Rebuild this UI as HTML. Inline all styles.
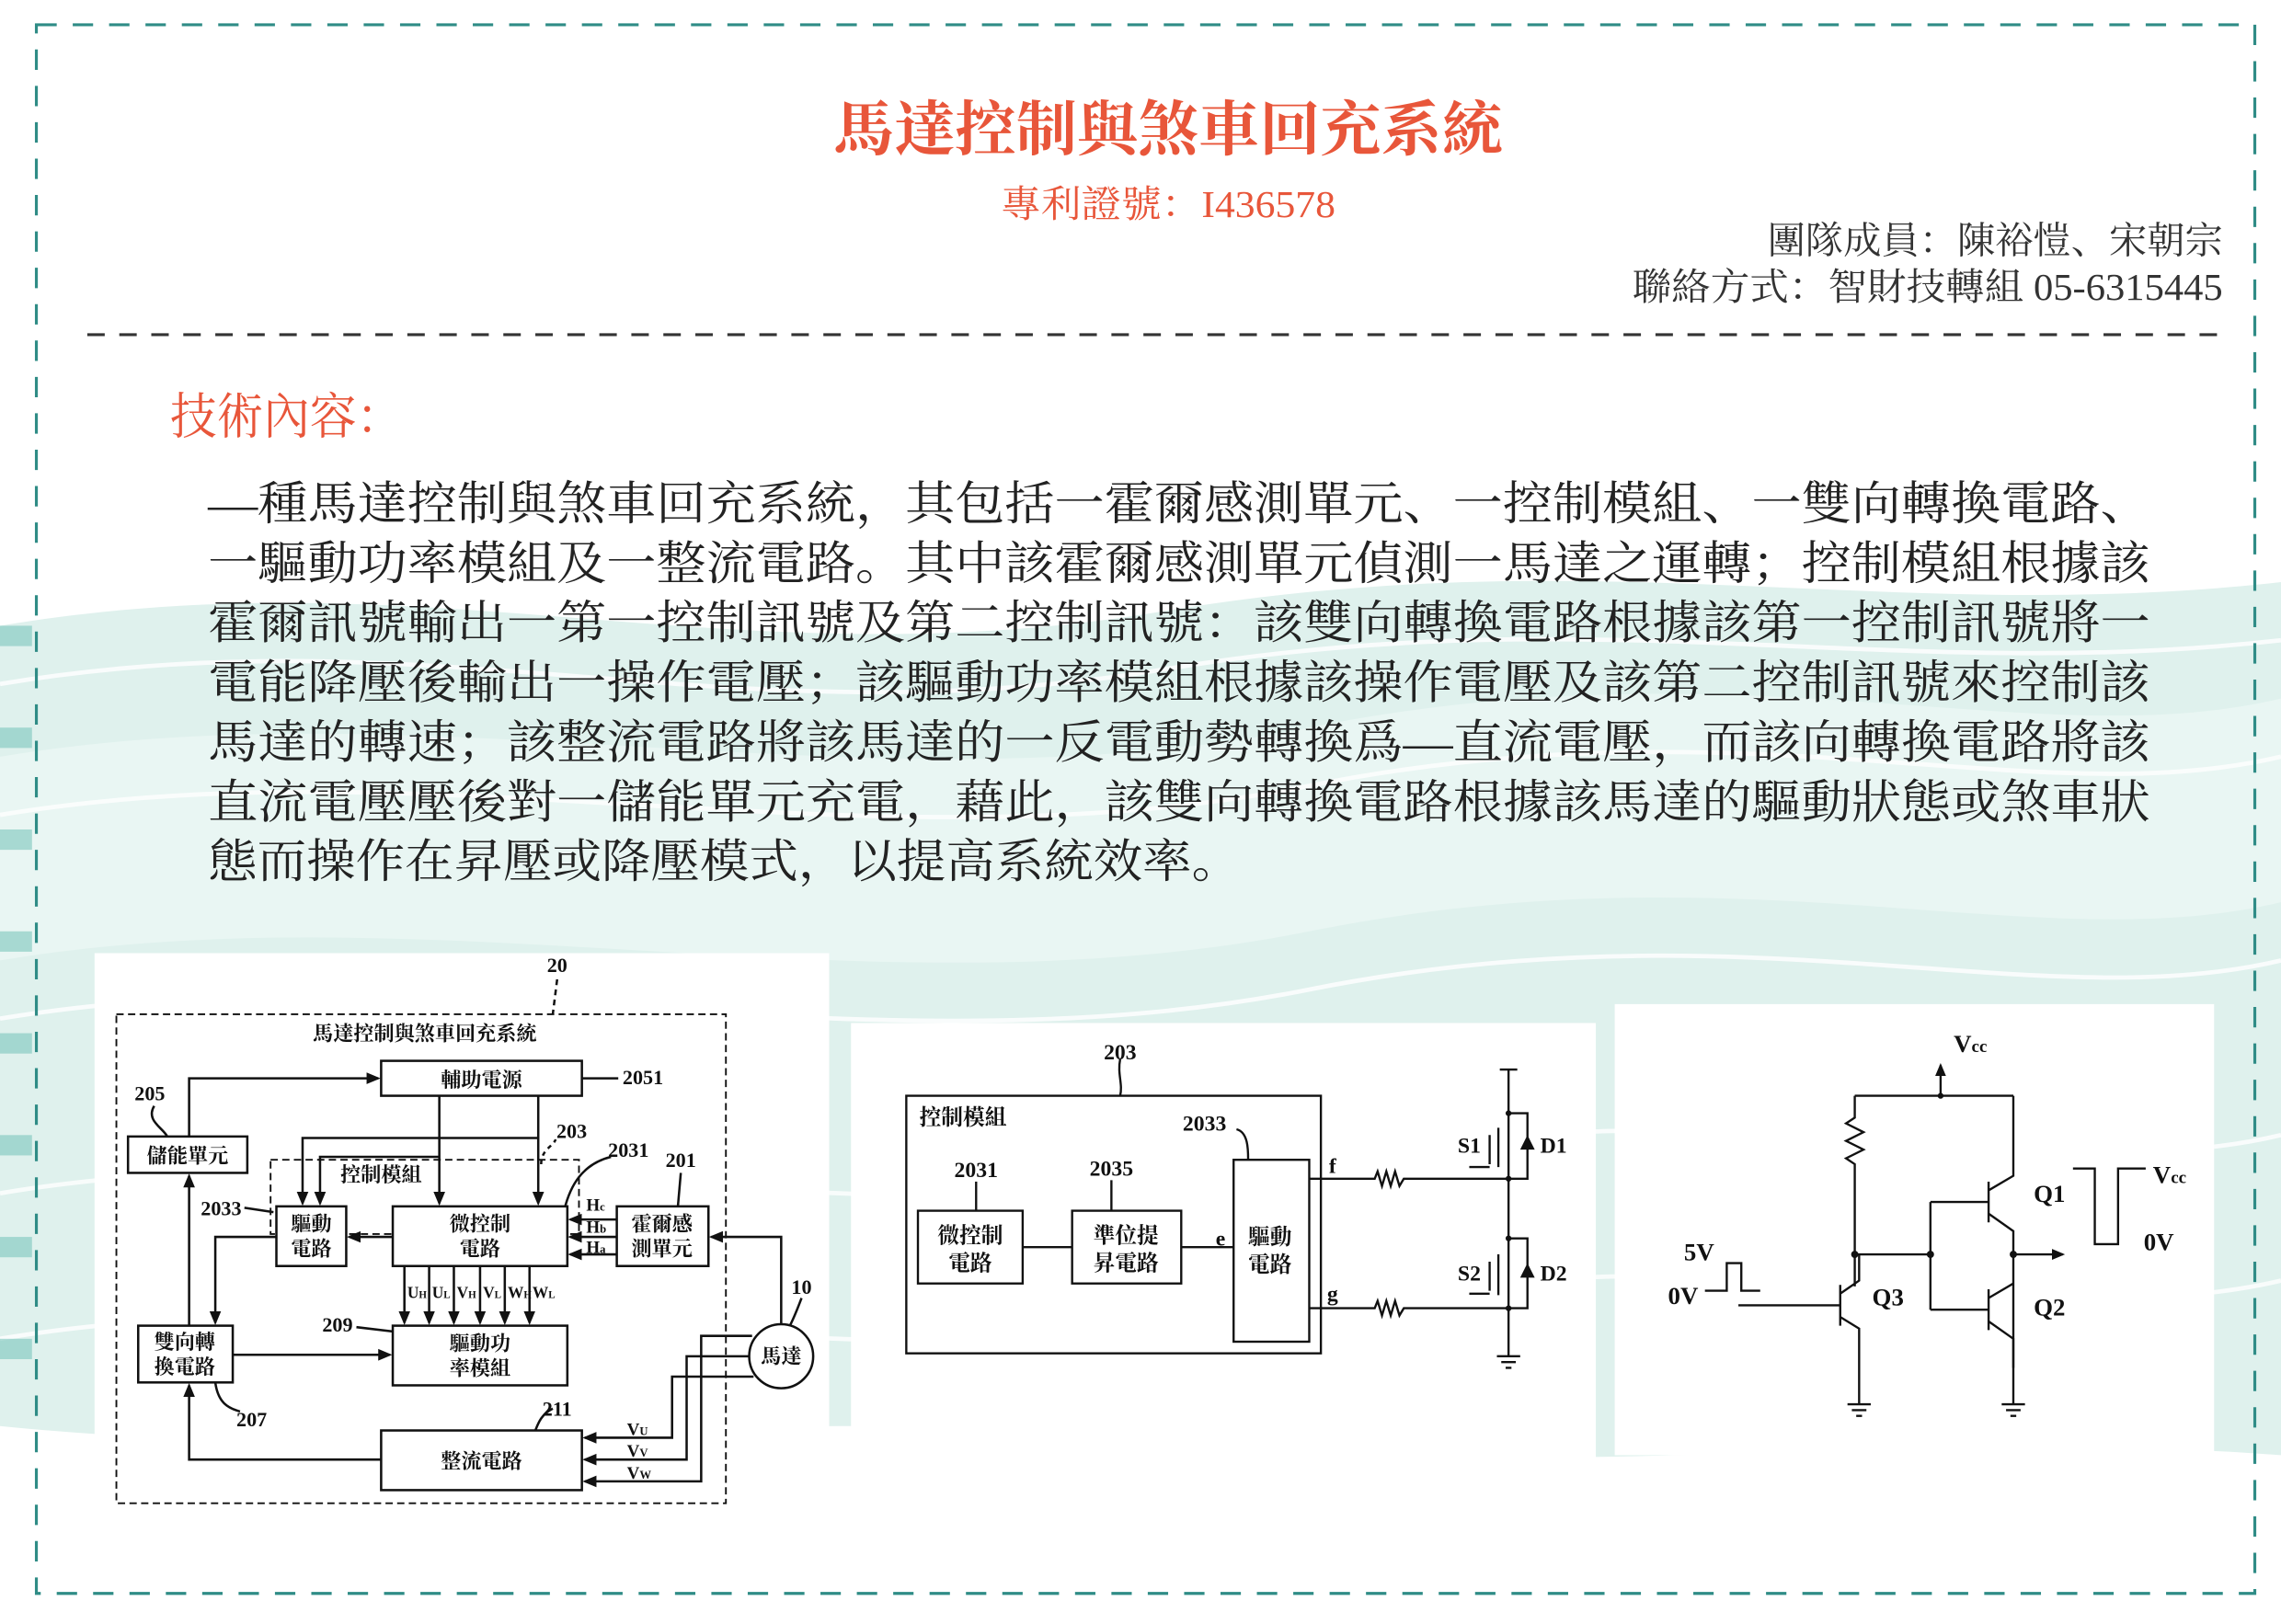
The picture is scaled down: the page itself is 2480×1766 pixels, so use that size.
<!DOCTYPE html>
<html><head><meta charset="utf-8">
<style>
html,body{margin:0;padding:0;background:#fff;}
svg{display:block;}
.t{font-family:"Liberation Serif","Noto Serif CJK SC","Noto Sans CJK TC",serif;}
.d{font-family:"Liberation Serif","Noto Serif CJK SC",serif;font-weight:bold;fill:#111;}
</style></head><body>
<svg width="2480" height="1766" viewBox="0 0 1568 1116" preserveAspectRatio="none" xmlns="http://www.w3.org/2000/svg">
<rect width="1568" height="1116" fill="#fff"/>
<path d="M0,430 C300,380 500,470 800,420 C1100,370 1300,430 1568,400 L1568,1000 C1300,980 1100,1020 800,990 C500,960 300,1010 0,980 Z" fill="#dff1ed"/>
<path d="M0,520 C300,470 600,560 900,500 C1200,440 1400,520 1568,480 L1568,620 C1400,660 1200,580 900,640 C600,700 300,610 0,660 Z" fill="#e9f6f3"/>
<g stroke="#fff" stroke-width="3" fill="none" opacity="0.8">
<path d="M0,470 C300,420 500,510 800,460 C1100,410 1300,470 1568,440"/>
<path d="M0,560 C300,510 600,600 900,540 C1200,480 1400,560 1568,520"/>
<path d="M0,700 C300,650 600,740 900,680 C1200,620 1400,700 1568,660"/>
<path d="M0,820 C300,770 600,860 900,800 C1200,740 1400,820 1568,780"/>
<path d="M0,920 C300,870 600,960 900,900 C1200,840 1400,920 1568,880"/>
</g>
<g fill="#7cc7bd" opacity="0.6">
<rect x="0" y="430" width="22" height="14"/><rect x="0" y="500" width="22" height="14"/><rect x="0" y="570" width="22" height="14"/><rect x="0" y="640" width="22" height="14"/><rect x="0" y="710" width="22" height="14"/><rect x="0" y="780" width="22" height="14"/><rect x="0" y="850" width="22" height="14"/><rect x="0" y="920" width="22" height="14"/>
</g>
<rect x="65" y="655" width="505" height="400" fill="#fff"/>
<rect x="585" y="703" width="512" height="300" fill="#fff"/>
<rect x="1110" y="690" width="412" height="310" fill="#fff"/>
<rect x="25" y="17" width="1525" height="1078" fill="none" stroke="#2f8c86" stroke-width="2" stroke-dasharray="14,11"/>
<line x1="60" y1="230" x2="1525" y2="230" stroke="#333" stroke-width="2" stroke-dasharray="12,10"/>
<text class="t" x="573" y="103" font-size="41" font-weight="bold" fill="#e8563a" textLength="460" lengthAdjust="spacingAndGlyphs">馬達控制與煞車回充系統</text>
<text class="t" x="688" y="149" font-size="26" fill="#e8563a" textLength="230" lengthAdjust="spacingAndGlyphs">專利證號：I436578</text>
<text class="t" x="1215" y="174" font-size="26" fill="#333" textLength="313" lengthAdjust="spacingAndGlyphs">團隊成員：陳裕愷、宋朝宗</text>
<text class="t" x="1122" y="206" font-size="26" fill="#333" textLength="406" lengthAdjust="spacingAndGlyphs">聯絡方式：智財技轉組 05-6315445</text>
<text class="t" x="117" y="298" font-size="34" fill="#e8563a" textLength="160" lengthAdjust="spacingAndGlyphs">技術內容：</text>
<g class="t" font-size="32" fill="#222">
<text x="143" y="357" textLength="1335" lengthAdjust="spacingAndGlyphs">—種馬達控制與煞車回充系統，其包括一霍爾感測單元、一控制模組、一雙向轉換電路、</text>
<text x="143" y="398" textLength="1335" lengthAdjust="spacingAndGlyphs">一驅動功率模組及一整流電路。其中該霍爾感測單元偵測一馬達之運轉；控制模組根據該</text>
<text x="143" y="439" textLength="1335" lengthAdjust="spacingAndGlyphs">霍爾訊號輸出一第一控制訊號及第二控制訊號：該雙向轉換電路根據該第一控制訊號將一</text>
<text x="143" y="480" textLength="1335" lengthAdjust="spacingAndGlyphs">電能降壓後輸出一操作電壓；該驅動功率模組根據該操作電壓及該第二控制訊號來控制該</text>
<text x="143" y="521" textLength="1335" lengthAdjust="spacingAndGlyphs">馬達的轉速；該整流電路將該馬達的一反電動勢轉換爲—直流電壓，而該向轉換電路將該</text>
<text x="143" y="562" textLength="1335" lengthAdjust="spacingAndGlyphs">直流電壓壓後對一儲能單元充電，藉此，該雙向轉換電路根據該馬達的驅動狀態或煞車狀</text>
<text x="143" y="603" textLength="710" lengthAdjust="spacingAndGlyphs">態而操作在昇壓或降壓模式，以提高系統效率。</text>
</g>
<defs><marker id="a" markerWidth="6" markerHeight="6" refX="5" refY="3" orient="auto"><path d="M0,0.5 L6,3 L0,5.5Z" fill="#111"/></marker></defs>
<g stroke="#111" stroke-width="1.6" fill="none">
<rect x="80" y="697" width="419" height="336" stroke-dasharray="5,3" stroke-width="1.2"/>
<path d="M383,673 L380,697" stroke-dasharray="4,3"/>
<rect x="262" y="729" width="138" height="24"/>
<path d="M400,741 L425,741"/>
<rect x="88" y="781" width="82" height="25"/>
<path d="M106,760 C100,770 112,775 115,781"/>
<path d="M130,781 L130,741 L260,741" marker-end="url(#a)"/>
<rect x="186" y="797" width="212" height="51" stroke-dasharray="5,3" stroke-width="1.2"/>
<path d="M372,800 C372,790 380,788 382,783" stroke-dasharray="3,3"/>
<path d="M420,795 C400,800 392,815 388,831"/>
<path d="M468,806 L466,829"/>
<rect x="190" y="829" width="48" height="41" fill="#fff"/>
<rect x="270" y="829" width="120" height="41" fill="#fff"/>
<rect x="424" y="829" width="63" height="41"/>
<path d="M302,753 L302,827" marker-end="url(#a)"/>
<path d="M370,753 L370,827" marker-end="url(#a)"/>
<path d="M370,782 L208,782 L208,827" marker-end="url(#a)"/>
<path d="M302,795 L220,795 L220,827" marker-end="url(#a)"/>
<path d="M424,838 L392,838" marker-end="url(#a)"/>
<path d="M424,850 L392,850" marker-end="url(#a)"/>
<path d="M424,862 L392,862" marker-end="url(#a)"/>
<path d="M270,850 L240,850" marker-end="url(#a)"/>
<path d="M190,850 L148,850 L148,909" marker-end="url(#a)"/>
<path d="M168,830 L188,833"/>
<path d="M278,870 L278,909" marker-end="url(#a)"/><path d="M295,870 L295,909" marker-end="url(#a)"/><path d="M312,870 L312,909" marker-end="url(#a)"/><path d="M330,870 L330,909" marker-end="url(#a)"/><path d="M347,870 L347,909" marker-end="url(#a)"/><path d="M364,870 L364,909" marker-end="url(#a)"/>
<rect x="270" y="911" width="120" height="41"/>
<path d="M245,912 L270,915"/>
<rect x="95" y="911" width="65" height="39"/>
<path d="M160,931 L268,931" marker-end="url(#a)"/>
<path d="M130,911 L130,808" marker-end="url(#a)"/>
<path d="M148,950 C150,965 158,968 165,970"/>
<rect x="262" y="983" width="138" height="41"/>
<path d="M380,968 C372,972 370,978 368,983"/>
<path d="M262,1003 L130,1003 L130,952" marker-end="url(#a)"/>
<circle cx="537" cy="932" r="22"/>
<path d="M551,892 C548,900 546,905 543,911"/>
<path d="M537,910 L537,850 L489,850" marker-end="url(#a)"/>
<path d="M517,918 L482,918 L482,1018 L402,1018" marker-end="url(#a)"/>
<path d="M515,932 L472,932 L472,1003 L402,1003" marker-end="url(#a)"/>
<path d="M518,946 L462,946 L462,988 L402,988" marker-end="url(#a)"/>
</g>
<g class="d" font-size="14">
<text x="383" y="668" text-anchor="middle">20</text>
<text x="292" y="715" text-anchor="middle">馬達控制與煞車回充系統</text>
<text x="331" y="747" text-anchor="middle">輔助電源</text>
<text x="428" y="745">2051</text>
<text x="103" y="756" text-anchor="middle">205</text>
<text x="129" y="799" text-anchor="middle">儲能單元</text>
<text x="393" y="782" text-anchor="middle">203</text>
<text x="432" y="795" text-anchor="middle">2031</text>
<text x="468" y="802" text-anchor="middle">201</text>
<text x="262" y="812" text-anchor="middle">控制模組</text>
<text x="152" y="835" text-anchor="middle">2033</text>
<text x="214" y="846" text-anchor="middle">驅動</text><text x="214" y="863" text-anchor="middle">電路</text>
<text x="330" y="846" text-anchor="middle">微控制</text><text x="330" y="863" text-anchor="middle">電路</text>
<text x="455" y="846" text-anchor="middle">霍爾感</text><text x="455" y="863" text-anchor="middle">測單元</text>
<text x="403" y="832" font-size="12">H<tspan font-size="8">c</tspan></text><text x="403" y="847" font-size="12">H<tspan font-size="8">b</tspan></text><text x="403" y="861" font-size="12">H<tspan font-size="8">a</tspan></text>
<text x="280" y="892" font-size="11">U<tspan font-size="7">H</tspan></text><text x="297" y="892" font-size="11">U<tspan font-size="7">L</tspan></text><text x="314" y="892" font-size="11">V<tspan font-size="7">H</tspan></text><text x="332" y="892" font-size="11">V<tspan font-size="7">L</tspan></text><text x="349" y="892" font-size="11">W<tspan font-size="7">H</tspan></text><text x="366" y="892" font-size="11">W<tspan font-size="7">L</tspan></text>
<text x="232" y="915" text-anchor="middle">209</text>
<text x="330" y="928" text-anchor="middle">驅動功</text><text x="330" y="945" text-anchor="middle">率模組</text>
<text x="127" y="927" text-anchor="middle">雙向轉</text><text x="127" y="944" text-anchor="middle">換電路</text>
<text x="173" y="980" text-anchor="middle">207</text>
<text x="383" y="973" text-anchor="middle">211</text>
<text x="331" y="1009" text-anchor="middle">整流電路</text>
<text x="537" y="937" text-anchor="middle">馬達</text>
<text x="551" y="889" text-anchor="middle">10</text>
<text x="431" y="986" font-size="12">V<tspan font-size="8">U</tspan></text><text x="431" y="1001" font-size="12">V<tspan font-size="8">V</tspan></text><text x="431" y="1016" font-size="12">V<tspan font-size="8">W</tspan></text>
</g>
<g stroke="#111" stroke-width="1.5" fill="none">
<path d="M770,728 C768,738 772,745 770,753"/>
<rect x="623" y="753" width="285" height="177"/>
<path d="M850,776 C858,778 858,790 858,797"/>
<rect x="848" y="797" width="52" height="125"/>
<path d="M671,812 L671,832"/><path d="M764,811 L764,832"/>
<rect x="631" y="832" width="72" height="50"/>
<rect x="737" y="832" width="75" height="50"/>
<path d="M703,857 L737,857"/><path d="M812,857 L848,857"/>
<path d="M900,810 L945,810 l2,-5 l3,10 l3,-10 l3,10 l3,-10 l3,10 l3,-5 L1037,810"/>
<path d="M900,899 L945,899 l2,-5 l3,10 l3,-10 l3,10 l3,-10 l3,10 l3,-5 L1037,899"/>
<path d="M1037,735 L1037,932"/><path d="M1031,735 L1043,735"/>
<path d="M1029,932 L1045,932 M1032,936 L1042,936 M1035,940 L1039,940"/>
<path d="M1037,765 L1050,765 L1050,810 L1037,810"/>
<path d="M1037,851 L1050,851 L1050,899 L1037,899"/>
<path d="M1030,775 L1030,802 M1024,780 L1024,800 M1010,802 L1024,802"/>
<path d="M1030,862 L1030,890 M1024,867 L1024,887 M1010,889 L1024,889"/>
</g>
<g fill="#111">
<path d="M1045,790 L1055,790 L1050,780Z"/><path d="M1045,878 L1055,878 L1050,868Z"/>
<circle cx="1037" cy="765" r="2"/><circle cx="1037" cy="810" r="2"/><circle cx="1037" cy="851" r="2"/><circle cx="1037" cy="899" r="2"/>
</g>
<g class="d" font-size="15">
<text x="770" y="728" text-anchor="middle">203</text>
<text x="632" y="773">控制模組</text>
<text x="828" y="777" text-anchor="middle">2033</text>
<text x="671" y="809" text-anchor="middle">2031</text>
<text x="764" y="808" text-anchor="middle">2035</text>
<text x="667" y="854" text-anchor="middle">微控制</text><text x="667" y="873" text-anchor="middle">電路</text>
<text x="774" y="854" text-anchor="middle">準位提</text><text x="774" y="873" text-anchor="middle">昇電路</text>
<text x="873" y="855" text-anchor="middle">驅動</text><text x="873" y="874" text-anchor="middle">電路</text>
<text x="839" y="856" text-anchor="middle">e</text>
<text x="916" y="806" text-anchor="middle">f</text><text x="916" y="894" text-anchor="middle">g</text>
<text x="1010" y="792" text-anchor="middle">S1</text><text x="1068" y="792" text-anchor="middle">D1</text>
<text x="1010" y="880" text-anchor="middle">S2</text><text x="1068" y="880" text-anchor="middle">D2</text>
</g>
<g stroke="#111" stroke-width="1.5" fill="none">
<path d="M1334,753 L1334,732" marker-end="url(#a)"/>
<path d="M1275,753 L1384,753"/>
<path d="M1275,753 L1275,768 l-6,4 l12,6 l-12,6 l12,6 l-12,6 l6,4 L1275,884"/>
<path d="M1275,862 L1327,862"/>
<path d="M1327,826 L1327,900"/>
<path d="M1327,826 L1367,826 M1367,812 L1367,840 M1367,818 L1384,808 L1384,753 M1367,834 L1384,846 L1384,940"/>
<path d="M1327,900 L1367,900 M1367,886 L1367,914 M1367,892 L1384,882 M1367,908 L1384,920 L1384,965"/>
<path d="M1384,862 L1418,862" marker-end="url(#a)"/>
<path d="M1195,897 L1265,897 M1265,883 L1265,911 M1265,889 L1278,880 L1278,862 M1265,905 L1278,913 L1278,965"/>
<path d="M1270,965 L1286,965 M1273,969 L1283,969 M1276,973 L1280,973"/>
<path d="M1376,965 L1392,965 M1379,969 L1389,969 M1382,973 L1386,973"/>
<path d="M1172,887 L1187,887 L1187,868 L1197,868 L1197,887 L1210,887"/>
<path d="M1425,803 L1440,803 L1440,855 L1456,855 L1456,803 L1475,803"/>
</g>
<g fill="#111"><circle cx="1334" cy="753" r="2"/><circle cx="1275" cy="862" r="2.5"/><circle cx="1327" cy="862" r="2.5"/><circle cx="1384" cy="862" r="2.5"/></g>
<g class="d" font-size="17">
<text x="1343" y="723">V<tspan font-size="12">cc</tspan></text>
<text x="1398" y="826">Q1</text><text x="1398" y="904">Q2</text><text x="1287" y="897">Q3</text>
<text x="1168" y="866" text-anchor="middle">5V</text><text x="1157" y="896" text-anchor="middle">0V</text>
<text x="1480" y="813">V<tspan font-size="12">cc</tspan></text>
<text x="1484" y="859" text-anchor="middle">0V</text>
</g>
</svg>
</body></html>
